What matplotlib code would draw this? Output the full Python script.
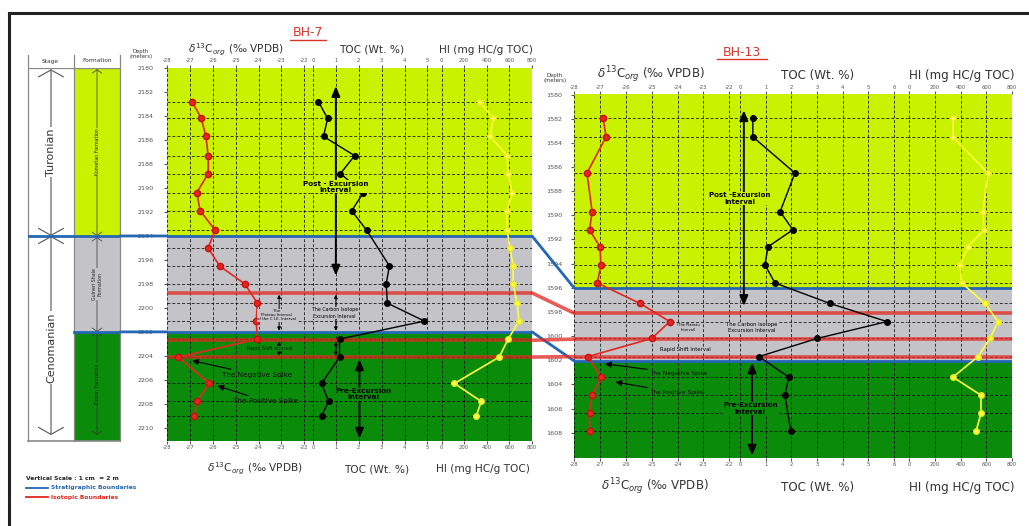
"""
Chemostratigraphic correlation of boreholes BH-7 and BH-13:
d13C(org), TOC and HI logs with stratigraphic and isotopic boundaries.
"""
import matplotlib.pyplot as plt
from matplotlib.lines import Line2D
from matplotlib.patches import ConnectionPatch
from matplotlib import transforms

W, H = 1029, 526

# ----------------------------------------------------------------------
# BH-7
# ----------------------------------------------------------------------
bh7_top, bh7_base = 2179.95, 2211.1
bh7_d13c_depth = [2182.8, 2184.2, 2185.7, 2187.3, 2188.8, 2190.4, 2191.9, 2193.5, 2195.0,
                  2196.5, 2198.0, 2199.6, 2201.1, 2202.6, 2204.1, 2206.3, 2207.8, 2209.0]
bh7_d13c = [-26.9, -26.5, -26.3, -26.2, -26.2, -26.7, -26.55, -25.9, -26.2,
            -25.7, -24.6, -24.05, -24.1, -24.05, -27.5, -26.15, -26.7, -26.8]
bh7_toc_depth = [2182.8, 2184.2, 2185.7, 2187.3, 2188.8, 2190.4, 2191.9, 2193.5,
                 2196.5, 2198.0, 2199.6, 2201.1, 2202.6, 2204.1, 2206.3, 2207.8, 2209.0]
bh7_toc = [0.24, 0.64, 0.46, 1.82, 1.2, 2.2, 1.69, 2.34,
           3.34, 3.2, 3.25, 4.87, 1.16, 1.16, 0.38, 0.68, 0.38]
bh7_hi_depth = bh7_d13c_depth
bh7_hi = [340, 457, 431, 580, 589, 624, 580, 580, 606,
          633, 633, 668, 685, 589, 510, 114, 351, 308]
bh7_strat = [2194.0, 2202.0]
bh7_iso = [2198.75, 2202.7, 2204.1]
bh7_depth_ticks = list(range(2180, 2211, 2))

# ----------------------------------------------------------------------
# BH-13
# ----------------------------------------------------------------------
bh13_top, bh13_base = 1579.95, 1610.1
bh13_d13c_depth = [1581.9, 1583.5, 1586.5, 1589.7, 1591.2, 1592.6, 1594.1, 1595.6,
                   1597.3, 1598.8, 1600.2, 1601.7, 1603.4, 1604.9, 1606.4, 1607.9]
bh13_d13c = [-26.88, -26.76, -27.5, -27.3, -27.4, -27.0, -26.96, -27.1,
             -25.45, -24.3, -25.0, -27.46, -26.96, -27.3, -27.4, -27.4]
bh13_toc_depth = [1581.9, 1583.5, 1586.5, 1589.7, 1591.2, 1592.6, 1594.1, 1595.6,
                  1597.3, 1598.8, 1600.2, 1601.7, 1603.4, 1604.9, 1607.9]
bh13_toc = [0.5, 0.5, 2.14, 1.56, 2.06, 1.09, 0.97, 1.36,
            3.5, 5.72, 3.0, 0.74, 1.9, 1.75, 1.98]
bh13_hi_depth = bh13_d13c_depth
bh13_hi = [341, 341, 613, 575, 582, 458, 396, 409,
           590, 691, 629, 536, 341, 559, 559, 520]
bh13_strat = [1596.0, 1602.05]
bh13_iso = [1598.1, 1600.25, 1601.7]
bh13_depth_ticks = list(range(1580, 1609, 2))

# axis ticks
d13c_ticks = [-28, -27, -26, -25, -24, -23, -22]
hi_ticks = [0, 200, 400, 600, 800]
bh7_toc_ticks = [0, 1, 2, 3, 4, 5]
bh13_toc_ticks = [0, 1, 2, 3, 4, 5, 6]

YG = '#c8f200'
GREY = '#c4c4c8'
GREEN = '#0a8c0a'
RED = '#e3261f'
BLUE = '#2566b5'
YEL = '#ffff3c'
TXT = '#333333'


def box(x0, y0, x1, y1):
    return [x0 / W, 1 - y1 / H, (x1 - x0) / W, (y1 - y0) / H]


def fx(x):
    return x / W


def fy(y):
    return 1 - y / H


def zones(ax, top, base, strat):
    edges = [top] + strat + [base]
    for c, a, b in zip([YG, GREY, GREEN], edges[:-1], edges[1:]):
        ax.axhspan(a, b, color=c, lw=0, zorder=0)


def track(ax, xlim, ticks, top, base, strat, iso, grid_depths):
    ax.set_xlim(xlim)
    ax.set_ylim(base, top)
    zones(ax, top, base, strat)
    ax.set_xticks(ticks)
    ax.set_xticklabels([str(t) for t in ticks])
    ax.tick_params(axis='x', top=True, labeltop=True, bottom=True, labelbottom=True,
                   labelsize=3.8, length=2, pad=1.2, colors='#555')
    ax.tick_params(axis='y', left=False, labelleft=False)
    for sp in ax.spines.values():
        sp.set_visible(False)
    ax.grid(axis='x', ls=(0, (3, 2)), color='k', lw=0.7, alpha=0.75)
    ax.hlines(grid_depths, 0, 1, transform=ax.get_yaxis_transform(),
              colors='k', linestyles=(0, (3, 2)), lw=0.7, alpha=0.75, zorder=1.5)
    for d in strat:
        ax.axhline(d, color=BLUE, lw=2.0, zorder=3)
    for d in iso:
        ax.axhline(d, color=RED, lw=2.6, alpha=0.75, zorder=3)


fig = plt.figure(figsize=(W / 100, H / 100), dpi=100)

# ----------------------------------------------------------------------
# Track axes
# ----------------------------------------------------------------------
ax_d7 = fig.add_axes(box(167, 67.5, 310, 441))
ax_t7 = fig.add_axes(box(310, 67.5, 437, 441))
ax_h7 = fig.add_axes(box(437, 67.5, 532, 441))
ax_d13 = fig.add_axes(box(574, 94, 740, 458))
ax_t13 = fig.add_axes(box(740, 94, 907, 458))
ax_h13 = fig.add_axes(box(907, 94, 1012, 458))

track(ax_d7, (-28, -21.75), d13c_ticks, bh7_top, bh7_base, bh7_strat, bh7_iso, bh7_d13c_depth)
track(ax_t7, (-0.13, 5.42), bh7_toc_ticks, bh7_top, bh7_base, bh7_strat, bh7_iso, bh7_d13c_depth)
track(ax_h7, (-40, 800), hi_ticks, bh7_top, bh7_base, bh7_strat, bh7_iso, bh7_d13c_depth)
track(ax_d13, (-28, -21.59), d13c_ticks, bh13_top, bh13_base, bh13_strat, bh13_iso, bh13_d13c_depth)
track(ax_t13, (0, 6.5), bh13_toc_ticks, bh13_top, bh13_base, bh13_strat, bh13_iso, bh13_d13c_depth)
track(ax_h13, (-16, 800), hi_ticks, bh13_top, bh13_base, bh13_strat, bh13_iso, bh13_d13c_depth)

# depth scales
for ax, ticks, pad in [(ax_d7, bh7_depth_ticks, 7), (ax_d13, bh13_depth_ticks, 6)]:
    ax.set_yticks(ticks)
    ax.set_yticklabels([str(t) for t in ticks])
    ax.tick_params(axis='y', left=True, labelleft=True, labelsize=4.6, length=2.5,
                   pad=pad, colors='#555')

# logs
for ax, d, v in [(ax_d7, bh7_d13c_depth, bh7_d13c), (ax_d13, bh13_d13c_depth, bh13_d13c)]:
    ax.plot(v, d, color=RED, lw=1.2, marker='o', ms=4.5, mfc=RED, mec='#c81010', zorder=5)
for ax, d, v in [(ax_t7, bh7_toc_depth, bh7_toc), (ax_t13, bh13_toc_depth, bh13_toc)]:
    ax.plot(v, d, color='k', lw=1.0, marker='o', ms=4, zorder=5)
for ax, d, v in [(ax_h7, bh7_hi_depth, bh7_hi), (ax_h13, bh13_hi_depth, bh13_hi)]:
    ax.plot(v, d, color=YEL, lw=1.2, marker='o', ms=4, mfc=YEL, mec='#e8e830', zorder=5)

# ----------------------------------------------------------------------
# Stage / formation columns (BH-7)
# ----------------------------------------------------------------------
ax_col = fig.add_axes(box(28, 67.5, 120, 441))
ax_col.set_xlim(0, 92)
ax_col.set_ylim(bh7_base, bh7_top)
ax_col.axis('off')
form_edges = [2180.0] + bh7_strat + [bh7_base]
for c, a, b in zip([YG, GREY, GREEN], form_edges[:-1], form_edges[1:]):
    ax_col.fill_betweenx([a, b], 46, 92, color=c, lw=0, zorder=0)
for x in [0, 46, 92]:
    ax_col.plot([x, x], [2178.9, bh7_base], color='#888', lw=0.9, clip_on=False)
ax_col.plot([0, 92], [2180.0, 2180.0], color='#888', lw=0.9)
ax_col.plot([0, 92], [bh7_base, bh7_base], color='#888', lw=1.2, clip_on=False)

stage_arrow = dict(arrowstyle='<->,head_length=0.5,head_width=0.9', lw=0.8, color='#555',
                   shrinkA=0, shrinkB=0, mutation_scale=10)
ax_col.annotate('', xy=(23, 2180.1), xytext=(23, 2194.0), arrowprops=stage_arrow)
ax_col.annotate('', xy=(23, 2194.0), xytext=(23, 2210.6), arrowprops=stage_arrow)
ax_col.text(23, 2187.0, 'Turonian', rotation=90, ha='center', va='center', fontsize=8,
            color=TXT, bbox=dict(fc='white', ec='none', pad=1))
ax_col.text(23, 2203.3, 'Cenomanian', rotation=90, ha='center', va='center', fontsize=8,
            color=TXT, bbox=dict(fc='white', ec='none', pad=1))

form_arrow = dict(arrowstyle='<->,head_length=0.5,head_width=0.7', lw=0.5, color='#333',
                  shrinkA=0, shrinkB=0, mutation_scale=5)
for a, b in zip(form_edges[:-2], form_edges[1:-1]):
    ax_col.annotate('', xy=(69, a + 0.1), xytext=(69, b), arrowprops=form_arrow)
ax_col.annotate('', xy=(69, 2202.0), xytext=(69, 2210.6), arrowprops=form_arrow)
for y, s, c in [(2187.0, 'Kometan Formation', YG), (2198.0, 'Gulneri Shale\nFormation', GREY),
                (2206.3, 'Dokan Formation', GREEN)]:
    ax_col.text(69, y, s, rotation=90, ha='center', va='center', fontsize=3.4, color='#222',
                linespacing=1.0, bbox=dict(fc=c, ec='none', pad=0.3))

# stratigraphic boundaries carried across the columns
col_starts = [0, 46]
for d, xs in zip(bh7_strat, col_starts):
    ax_col.plot([xs, 92], [d, d], color=BLUE, lw=2.0, zorder=3)
    fig.add_artist(ConnectionPatch(xyA=(92, d), coordsA='data', axesA=ax_col,
                                   xyB=(-28, d), coordsB='data', axesB=ax_d7,
                                   color=BLUE, lw=2.0, zorder=3))

# ----------------------------------------------------------------------
# Correlation between the two wells
# ----------------------------------------------------------------------
bt7 = transforms.blended_transform_factory(ax_h7.transAxes, ax_h7.transData)
bt13 = transforms.blended_transform_factory(ax_d13.transAxes, ax_d13.transData)
for d7, d13 in zip(bh7_strat, bh13_strat):
    fig.add_artist(ConnectionPatch(xyA=(1, d7), coordsA=bt7, xyB=(0, d13), coordsB=bt13,
                                   color=BLUE, lw=2.0))
for d7, d13 in zip(bh7_iso, bh13_iso):
    fig.add_artist(ConnectionPatch(xyA=(1, d7), coordsA=bt7, xyB=(0, d13), coordsB=bt13,
                                   color=RED, lw=2.6, alpha=0.75))

# ----------------------------------------------------------------------
# Interval annotations
# ----------------------------------------------------------------------
big_arrow = dict(arrowstyle='<|-|>,head_length=0.6,head_width=0.25', lw=1.4, color='k',
                 shrinkA=0, shrinkB=0, mutation_scale=10)
small_arrow = dict(arrowstyle='<|-|>,head_length=0.5,head_width=0.25', lw=0.7, color='k',
                   shrinkA=0, shrinkB=0, mutation_scale=4)
spike_arrow = dict(arrowstyle='-|>,head_length=0.6,head_width=0.3', lw=0.8, color='k',
                   shrinkA=0, shrinkB=0, mutation_scale=6)

# BH-7
ax_t7.annotate('', xy=(1.0, 2181.5), xytext=(1.0, 2197.3), arrowprops=big_arrow, zorder=4)
ax_t7.text(1.0, 2189.9, 'Post - Excursion\nInterval', ha='center', va='center', fontsize=5.2,
           fontweight='bold', linespacing=1.1, zorder=6, bbox=dict(fc=YG, ec='none', pad=0.3))
ax_t7.annotate('', xy=(2.03, 2204.3), xytext=(2.03, 2210.9), arrowprops=big_arrow, zorder=4)
ax_t7.text(2.2, 2207.2, 'Pre-Excursion\nInterval', ha='center', va='center', fontsize=5.2,
           fontweight='bold', linespacing=1.1, zorder=6, bbox=dict(fc=GREEN, ec='none', pad=0.3))
for ax, x in [(ax_d7, -23.1), (ax_t7, 1.0)]:
    ax.annotate('', xy=(x, 2198.9), xytext=(x, 2201.9), arrowprops=small_arrow, zorder=4)
    ax.annotate('', xy=(x, 2202.8), xytext=(x, 2204.0), arrowprops=small_arrow, zorder=4)
ax_d7.text(-23.2, 2200.6, 'The\nPlateau Interval\nof the C.I.E. Interval', ha='center',
           va='center', fontsize=2.8, linespacing=1.1, zorder=6,
           bbox=dict(fc=GREY, ec='none', pad=0.2))
ax_t7.text(0.95, 2200.4, 'The Carbon Isotope\nExcursion Interval', ha='center', va='center',
           fontsize=3.4, linespacing=1.4, zorder=6, bbox=dict(fc=GREY, ec='none', pad=0.2))
ax_d7.text(-23.5, 2203.4, 'Rapid Shift Interval', ha='center', va='center', fontsize=3.4,
           color='#102010', zorder=6, bbox=dict(fc=GREEN, ec='none', pad=0.2))
ax_d7.annotate('The Negative Spike', xy=(-26.9, 2204.4), xytext=(-25.6, 2205.6),
               ha='left', va='center', fontsize=5.2, color='#111', arrowprops=spike_arrow,
               annotation_clip=False, zorder=6)
ax_d7.annotate('The Positive Spike', xy=(-25.8, 2206.5), xytext=(-25.1, 2207.8),
               ha='left', va='center', fontsize=5.2, color='#111', arrowprops=spike_arrow,
               annotation_clip=False, zorder=6)

# BH-13
ax_t13.annotate('', xy=(0.15, 1581.3), xytext=(0.15, 1597.5), arrowprops=big_arrow, zorder=4)
ax_t13.text(0.0, 1588.6, 'Post -Excursion\nInterval', ha='center', va='center', fontsize=5.0,
            fontweight='bold', linespacing=1.1, zorder=6, bbox=dict(fc=YG, ec='none', pad=0.3))
ax_t13.annotate('', xy=(0.47, 1602.2), xytext=(0.47, 1609.9), arrowprops=big_arrow, zorder=4)
ax_t13.text(0.4, 1606.0, 'Pre-Excursion\nInterval', ha='center', va='center', fontsize=5.0,
            fontweight='bold', linespacing=1.1, zorder=6, bbox=dict(fc=GREEN, ec='none', pad=0.3))
ax_t13.text(0.47, 1599.3, 'The Carbon Isotope\nExcursion Interval', ha='center', va='center',
            fontsize=3.8, linespacing=1.2, zorder=6, clip_on=False,
            bbox=dict(fc=GREY, ec='none', pad=0.2))
ax_d13.text(-23.6, 1599.3, '(The Plateau\nInterval)', ha='center', va='center',
            fontsize=2.6, linespacing=1.1, zorder=6, bbox=dict(fc=GREY, ec='none', pad=0.2))
ax_d13.text(-23.7, 1601.1, 'Rapid Shift Interval', ha='center', va='center', fontsize=3.8,
            zorder=6, bbox=dict(fc=GREY, ec='none', pad=0.2))
ax_d13.annotate('The Negative Spike', xy=(-26.8, 1602.3), xytext=(-25.07, 1603.1),
                ha='left', va='center', fontsize=4.2, color='#111', arrowprops=spike_arrow,
                zorder=6)
ax_d13.annotate('The Positive Spike', xy=(-26.4, 1603.8), xytext=(-25.07, 1604.7),
                ha='left', va='center', fontsize=4.2, color='#111', arrowprops=spike_arrow,
                zorder=6)

# ----------------------------------------------------------------------
# Headers, axis titles, legend, frame
# ----------------------------------------------------------------------
d13c_label = r'$\delta^{13}$C$_{org}$ (‰ VPDB)'
for x, y, s in [(236, 50, d13c_label), (372, 50, 'TOC (Wt. %)'), (486, 50, 'HI (mg HC/g TOC)'),
                (255, 469, d13c_label), (377, 469, 'TOC (Wt. %)'), (483, 469, 'HI (mg HC/g TOC)')]:
    fig.text(fx(x), fy(y), s, ha='center', va='center', fontsize=7.6, color=TXT)
for x, y, s in [(651, 75, d13c_label), (818, 75, 'TOC (Wt. %)'), (962, 75, 'HI (mg HC/g TOC)'),
                (655, 487, d13c_label), (818, 487, 'TOC (Wt. %)'), (962, 487, 'HI (mg HC/g TOC)')]:
    fig.text(fx(x), fy(y), s, ha='center', va='center', fontsize=8.6, color=TXT)

for x, y, s, w in [(308, 33, 'BH-7', 18), (742, 52, 'BH-13', 25)]:
    fig.text(fx(x), fy(y), s, ha='center', va='center', fontsize=9, color='#d8342c')
    fig.add_artist(Line2D([fx(x - w), fx(x + w)], [fy(y + 7), fy(y + 7)], color='#d8342c', lw=1))

fig.text(fx(50), fy(61), 'Stage', ha='center', va='center', fontsize=4.2, color=TXT)
fig.text(fx(97), fy(61), 'Formation', ha='center', va='center', fontsize=4.2, color=TXT)
fig.text(fx(141), fy(54), 'Depth\n(meters)', ha='center', va='center', fontsize=3.8,
         color=TXT, linespacing=1.0)
fig.text(fx(555), fy(78), 'Depth\n(meters)', ha='center', va='center', fontsize=3.8,
         color=TXT, linespacing=1.0)

fig.text(fx(26), fy(479), 'Vertical Scale : 1 cm  = 2 m', ha='left', va='center',
         fontsize=4.3, fontweight='bold', color='#222')
for y, c, s in [(488, BLUE, 'Stratigraphic Boundaries'), (497, RED, 'Isotopic Boundaries')]:
    fig.add_artist(Line2D([fx(26), fx(48)], [fy(y), fy(y)], color=c, lw=1.3))
    fig.text(fx(51), fy(y), s, ha='left', va='center', fontsize=4.3, fontweight='bold', color=c)

fig.add_artist(Line2D([fx(9), fx(1029)], [fy(13), fy(13)], color='#222', lw=2.2))
fig.add_artist(Line2D([fx(9), fx(9)], [fy(13), fy(526)], color='#222', lw=2.2))

fig.savefig('out.png', dpi=100)
